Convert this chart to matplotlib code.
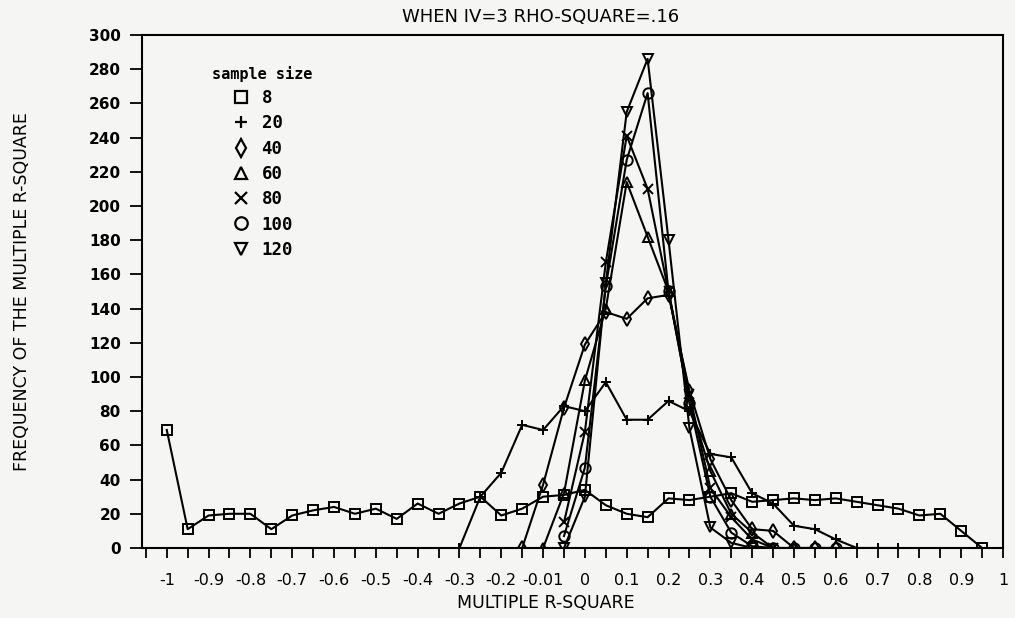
import matplotlib
matplotlib.use("Agg")
import matplotlib.pyplot as plt
from matplotlib.lines import Line2D

# bin centres of the multiple R-square (categories on the x axis)
r2_bins = [-1.0, -0.95, -0.9, -0.85, -0.8, -0.75, -0.7, -0.65, -0.6, -0.55,
           -0.5, -0.45, -0.4, -0.35, -0.3, -0.25, -0.2, -0.15, -0.1, -0.05,
           0.0, 0.05, 0.1, 0.15, 0.2, 0.25, 0.3, 0.35, 0.4, 0.45,
           0.5, 0.55, 0.6, 0.65, 0.7, 0.75, 0.8, 0.85, 0.9, 0.95, 1.0]

sample_sizes = ['8', '20', '40', '60', '80', '100', '120']
first_bin = [-1.0, -0.3, -0.15, -0.1, -0.05, -0.05, -0.05]

freq_n8 = [69, 11, 19, 20, 20, 11, 19, 22, 24, 20, 23, 17, 26, 20, 26, 30, 19, 23, 30, 31,
           34, 25, 20, 18, 29, 28, 30, 32, 27, 28, 29, 28, 29, 27, 25, 23, 19, 20, 10, 0]
freq_n20 = [0, 30, 44, 72, 69, 83, 80, 97, 75, 75, 86, 80, 55, 53, 32, 26, 13, 11, 5, 0, 0, 0]
freq_n40 = [0, 37, 82, 119, 138, 134, 146, 148, 92, 52, 28, 11, 10, 0, 0, 0]
freq_n60 = [0, 32, 98, 140, 214, 182, 150, 85, 45, 20, 9, 0, 0]
freq_n80 = [15, 68, 167, 241, 210, 150, 90, 35, 18, 5, 0]
freq_n100 = [7, 47, 153, 227, 266, 150, 85, 30, 9, 1, 0, 0, 0, 0]
freq_n120 = [0, 30, 155, 255, 286, 180, 70, 12, 3, 0]
all_freqs = [freq_n8, freq_n20, freq_n40, freq_n60, freq_n80, freq_n100, freq_n120]

tick_pos = [-1.0, -0.9, -0.8, -0.7, -0.6, -0.5, -0.4, -0.3, -0.2, -0.1,
            0.0, 0.1, 0.2, 0.3, 0.4, 0.5, 0.6, 0.7, 0.8, 0.9, 1.0]
tick_labels = ['-1', '-0.9', '-0.8', '-0.7', '-0.6', '-0.5', '-0.4', '-0.3', '-0.2', '-0.01',
               '0', '0.1', '0.2', '0.3', '0.4', '0.5', '0.6', '0.7', '0.8', '0.9', '1']
y_ticks = list(range(0, 301, 20))

markers = ['s', '+', 'd', '^', 'x', 'o', 'v']
bg = '#f5f5f3'

fig = plt.figure(figsize=(10.15, 6.18), dpi=100, facecolor=bg)
ax = fig.add_axes([0.1396, 0.1133, 0.8486, 0.8301], facecolor=bg)

handles = []
for freqs, start, mk in zip(all_freqs, first_bin, markers):
    i0 = r2_bins.index(start)
    xs = r2_bins[i0:i0 + len(freqs)]
    ax.plot(xs, freqs, color='black', lw=1.5, marker=mk, markersize=7.5,
            markerfacecolor='none', markeredgecolor='black', markeredgewidth=1.4)
    handles.append(Line2D([], [], ls='none', marker=mk, markersize=9,
                          markerfacecolor='none', markeredgecolor='black',
                          markeredgewidth=1.6))

ax.set_xlim(-1.06, 1.0)
ax.set_ylim(0, 300)
ax.set_xticks(tick_pos)
ax.set_xticklabels(tick_labels, fontsize=11.5)
ax.set_xticks(r2_bins + [-1.05], minor=True)
ax.set_yticks(y_ticks)
ax.set_yticklabels([str(v) for v in y_ticks], fontsize=11, fontweight='bold')
ax.tick_params(axis='x', which='both', direction='out', length=7, width=1.3, pad=11)
ax.tick_params(axis='y', direction='out', length=9, width=1.3, pad=6)
for sp in ax.spines.values():
    sp.set_linewidth(1.5)

leg = ax.legend(handles, sample_sizes, title='sample size', loc='upper left',
                bbox_to_anchor=(0.082, 0.94), frameon=False, borderpad=0,
                borderaxespad=0, handlelength=1.0, handletextpad=0.7,
                labelspacing=0.42,
                prop={'family': 'DejaVu Sans Mono', 'weight': 'bold', 'size': 12.5},
                title_fontproperties={'family': 'DejaVu Sans Mono',
                                      'weight': 'bold', 'size': 11})

fig.text(0.533, 0.972, 'WHEN IV=3 RHO-SQUARE=.16', ha='center', va='center', fontsize=13)
fig.text(0.538, 0.024, 'MULTIPLE R-SQUARE', ha='center', va='center', fontsize=12.5)
fig.text(0.022, 0.528, 'FREQUENCY OF THE MULTIPLE R-SQUARE', ha='center', va='center',
         rotation=90, fontsize=12.5)

fig.savefig('out.png', dpi=100, facecolor=bg)
